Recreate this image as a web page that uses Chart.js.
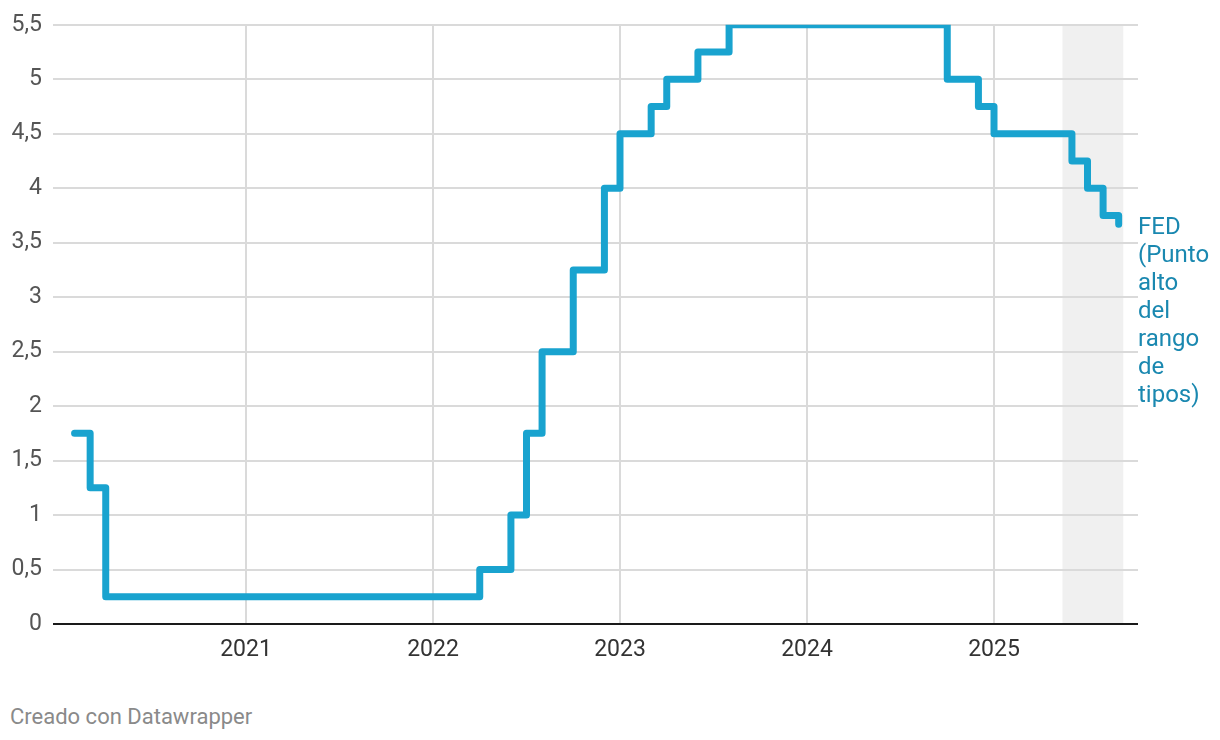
<!DOCTYPE html>
<html>
<head>
<meta charset="utf-8">
<script src="https://cdn.jsdelivr.net/npm/chart.js@4/dist/chart.umd.min.js"></script>
<style>
  html, body { margin: 0; padding: 0; background: #fff; }
  #wrap { position: relative; width: 1220px; height: 740px; }
  #c { position: absolute; left: 0; top: 0; }
  #credit { position: absolute; left: 10px; top: 704px; font-family: Roboto, sans-serif; font-size: 22px; color: #8a8a8a; }
</style>
</head>
<body>
<div id="wrap">
  <canvas id="c" width="1220" height="690"></canvas>
  <div id="credit">Creado con Datawrapper</div>
</div>
<script>
// Change points of the Fed upper bound (year-month), values in %
const changeDates = ["2020-02","2020-03","2020-04","2022-04","2022-06","2022-07","2022-08","2022-10","2022-12","2023-01","2023-03","2023-04","2023-06","2023-08","2024-10","2024-12","2025-01","2025-06","2025-07","2025-08","2025-09"];
const fedRate =     [1.75,     1.25,     0.25,     0.5,      1.0,      1.75,     2.5,      3.25,     4.0,      4.5,      4.75,     5.0,      5.25,     5.5,      5.0,      4.75,     4.5,      4.25,     4.0,      3.75,     3.67];
const yearTicks = [2021, 2022, 2023, 2024, 2025];
const yTicks = [0, 0.5, 1, 1.5, 2, 2.5, 3, 3.5, 4, 4.5, 5, 5.5];
const shadedRange = ["2025-05-13", "2025-09-10"];
const seriesLabel = ["FED", "(Punto", "alto", "del", "rango", "de", "tipos)"];

function ym(s) { const p = s.split("-").map(Number); return p[0] + (p[1]-1)/12 + (p[2] ? (p[2]-1)/365 : 0); }

const points = changeDates.map((d, i) => ({ x: ym(d), y: fedRate[i] }));

const shadePlugin = {
  id: 'shadeUnder',
  beforeDraw(chart) {
    const { ctx, chartArea, scales } = chart;
    const x0 = scales.x.getPixelForValue(ym(shadedRange[0]));
    const x1 = scales.x.getPixelForValue(ym(shadedRange[1]));
    ctx.save();
    ctx.fillStyle = '#f0f0f0';
    ctx.fillRect(x0, chartArea.top, x1 - x0, chartArea.bottom - chartArea.top);
    ctx.restore();
  }
};

const labelPlugin = {
  id: 'seriesLabel',
  afterDatasetsDraw(chart) {
    const { ctx, chartArea } = chart;
    const meta = chart.getDatasetMeta(0);
    const last = meta.data[meta.data.length - 1];
    ctx.save();
    ctx.font = '24px Roboto, sans-serif';
    ctx.fillStyle = '#1a88b0';
    ctx.textBaseline = 'middle';
    ctx.textAlign = 'left';
    seriesLabel.forEach((t, i) => ctx.fillText(t, chartArea.right, last.y + 4 + i * 28));
    ctx.restore();
  }
};

new Chart(document.getElementById('c'), {
  type: 'line',
  data: {
    datasets: [{
      data: points,
      stepped: true,
      borderColor: '#19a3cf',
      borderWidth: 7,
      borderCapStyle: 'round',
      borderJoinStyle: 'round',
      pointRadius: 0,
      fill: false
    }]
  },
  options: {
    responsive: false,
    animation: false,
    layout: { padding: { left: 0, right: 82, top: 24, bottom: 0 } },
    plugins: { legend: { display: false }, tooltip: { enabled: false } },
    scales: {
      x: {
        type: 'linear',
        min: 2019.968,
        max: 2025.770,
        afterBuildTicks(s) { s.ticks = yearTicks.map(v => ({ value: v })); },
        afterFit(s) { s.height = 66; },
        ticks: {
          callback: v => String(v),
          font: { family: 'Roboto', size: 23 },
          color: '#333',
          padding: 12,
          maxRotation: 0
        },
        grid: { color: '#dadada', lineWidth: 2, drawTicks: false },
        border: { display: false }
      },
      y: {
        min: 0,
        max: 5.5,
        afterBuildTicks(s) { s.ticks = yTicks.map(v => ({ value: v })); },
        afterFit(s) { s.width = 53; },
        ticks: {
          callback: v => String(v).replace('.', ','),
          font: { family: 'Roboto', size: 23 },
          color: '#555',
          padding: 11
        },
        grid: {
          color: c => c.tick && c.tick.value === 0 ? '#1a1a1a' : '#dadada',
          lineWidth: 2,
          drawTicks: false
        },
        border: { display: false }
      }
    }
  },
  plugins: [shadePlugin, labelPlugin]
});
</script>
</body>
</html>
